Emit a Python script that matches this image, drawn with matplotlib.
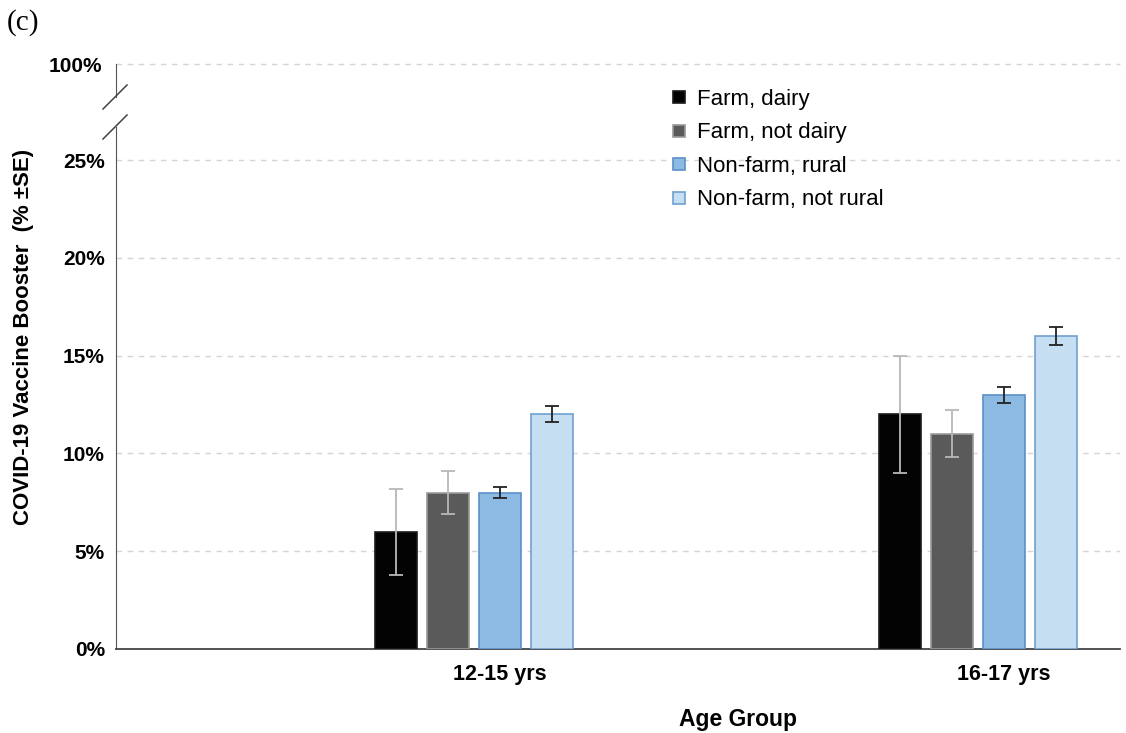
import matplotlib
matplotlib.use("Agg")
import matplotlib.pyplot as plt
from matplotlib.lines import Line2D
import numpy as np

# Data
age_groups = ["12-15 yrs", "16-17 yrs"]
residence = ["Farm, dairy", "Farm, not dairy", "Non-farm, rural", "Non-farm, not rural"]
booster_pct = {
    "Farm, dairy":         [6.0, 12.0],
    "Farm, not dairy":     [8.0, 11.0],
    "Non-farm, rural":     [8.0, 13.0],
    "Non-farm, not rural": [12.0, 16.0],
}
booster_se = {
    "Farm, dairy":         [2.2, 3.0],
    "Farm, not dairy":     [1.1, 1.2],
    "Non-farm, rural":     [0.3, 0.4],
    "Non-farm, not rural": [0.4, 0.45],
}
y_ticks = [0, 5, 10, 15, 20, 25]

# Styling
face = {"Farm, dairy": "#030303", "Farm, not dairy": "#5a5a5a",
        "Non-farm, rural": "#8dbae2", "Non-farm, not rural": "#c6def2"}
edge = {"Farm, dairy": "#1a1a1a", "Farm, not dairy": "#9a9a9a",
        "Non-farm, rural": "#5b90c8", "Non-farm, not rural": "#6f9fd0"}
err_col = {"Farm, dairy": "#b8b8b8", "Farm, not dairy": "#b8b8b8",
           "Non-farm, rural": "#222222", "Non-farm, not rural": "#222222"}

plt.rcParams["font.family"] = ["Liberation Sans", "DejaVu Sans"]

W, H = 1126, 733
fig = plt.figure(figsize=(W / 100, H / 100), dpi=100)

left_px, right_px = 116, 1120
zero_px, low_top_px = 649, 127
up_top_px, up_bot_px = 64, 97
px_per_unit = (zero_px - 160) / 25.0

ax = fig.add_axes([left_px / W, 1 - zero_px / H,
                   (right_px - left_px) / W, (zero_px - low_top_px) / H])
ax_top = fig.add_axes([left_px / W, 1 - up_bot_px / H,
                       (right_px - left_px) / W, (up_bot_px - up_top_px) / H])

# Four bars per group in a five-slot layout (last slot left empty)
x = np.arange(len(age_groups))
width = 0.0833
step = 0.1032
for i, name in enumerate(residence):
    pos = x + (i - 2) * step
    ax.bar(pos, booster_pct[name], width, color=face[name],
           edgecolor=edge[name], linewidth=1.2, zorder=3)
    ax.errorbar(pos, booster_pct[name], yerr=booster_se[name], fmt="none",
                ecolor=err_col[name], elinewidth=1.3, capsize=5,
                capthick=1.3, zorder=4)

ax.set_xlim(-0.762, 1.230)
ax.set_ylim(0, (zero_px - low_top_px) / px_per_unit)
ax.set_yticks(y_ticks)
ax.set_yticklabels([f"{v}%" for v in y_ticks], fontsize=15, fontweight="bold")
ax.set_xticks(x)
ax.set_xticklabels(age_groups, fontsize=15.5, fontweight="bold")
ax.tick_params(axis="y", length=0, pad=8)
ax.tick_params(axis="x", length=0, pad=11)
ax.grid(axis="y", linestyle=(0, (4, 4)), color="#d4d4d4", linewidth=1, zorder=0)
for s in ["top", "right"]:
    ax.spines[s].set_visible(False)
ax.spines["left"].set_color("#555555")
ax.spines["bottom"].set_color("#444444")
ax.spines["bottom"].set_linewidth(1.3)

# Upper strip holding the 100% level
ax_top.set_xlim(ax.get_xlim())
ax_top.set_ylim(100 - (up_bot_px - up_top_px) / px_per_unit, 100)
ax_top.set_yticks([100])
ax_top.set_yticklabels(["100%"], fontsize=15, fontweight="bold")
ax_top.set_xticks([])
ax_top.tick_params(axis="y", length=0, pad=10)
ax_top.axhline(100, linestyle=(0, (4, 4)), color="#d4d4d4", linewidth=1,
               clip_on=False)
for s in ["top", "right", "bottom"]:
    ax_top.spines[s].set_visible(False)
ax_top.spines["left"].set_color("#555555")
ax_top.patch.set_alpha(0)

# Axis break marks
for yb in (up_bot_px, low_top_px):
    fig.add_artist(Line2D([103 / W, 127 / W], [1 - (yb + 12) / H, 1 - (yb - 12) / H],
                          color="#444444", linewidth=1.1))

fig.text(738 / W, 1 - 726 / H, "Age Group", ha="center", va="baseline",
         fontsize=16.5, fontweight="bold")
fig.text(24 / W, 1 - 337 / H, "COVID-19 Vaccine Booster  (% ±SE)", rotation=90,
         ha="center", va="center", fontsize=16, fontweight="bold")
fig.text(7 / W, 1 - 23 / H, "(c)", fontsize=21, family="Liberation Serif",
         ha="left", va="center")

handles = [Line2D([], [], marker="s", linestyle="none", markersize=9,
                  markerfacecolor=face[n], markeredgecolor=edge[n],
                  markeredgewidth=1.2) for n in residence]
fig.legend(handles, residence, loc="upper left",
           bbox_to_anchor=(670 / W, 1 - 89 / H), frameon=False, fontsize=16,
           handlelength=0.8, handletextpad=0.43, labelspacing=0.56,
           borderpad=0, borderaxespad=0)

fig.savefig("out.png", dpi=100)
